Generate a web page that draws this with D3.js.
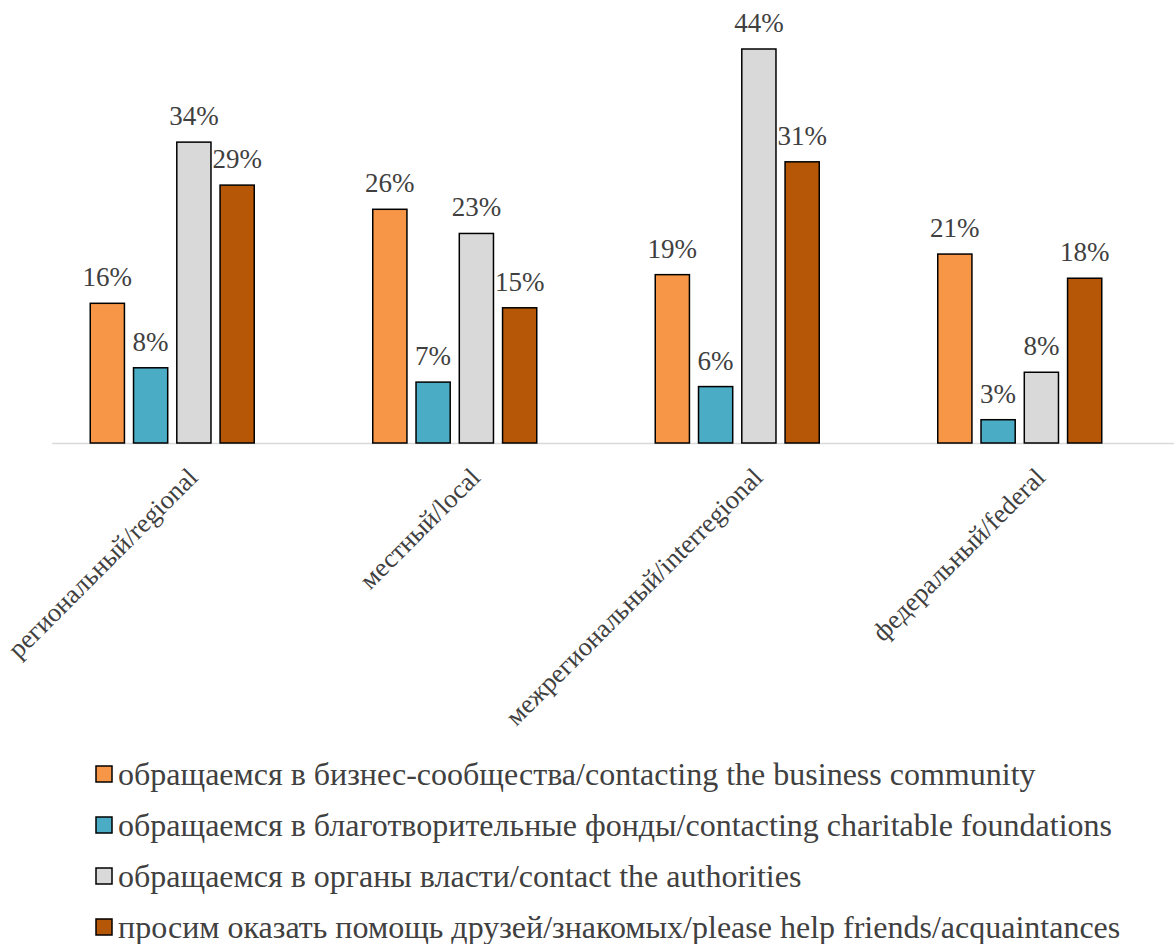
<!DOCTYPE html>
<html>
<head>
<meta charset="utf-8">
<script src="https://cdn.jsdelivr.net/npm/d3@7"></script>
<style>
  body { margin: 0; background: #fff; }
  text { font-family: "Liberation Serif", "Times New Roman", serif; fill: #404040; }
</style>
</head>
<body>
<div id="chart"></div>
<script>
const widthChart = 1174;
const heightChart = 944;

const categories = ["региональный/regional", "местный/local", "межрегиональный/interregional", "федеральный/federal"];
const seriesNames = [
    "обращаемся в бизнес-сообщества/contacting the business community",
    "обращаемся в благотворительные фонды/contacting charitable foundations",
    "обращаемся в органы власти/contact the authorities",
    "просим оказать помощь друзей/знакомых/please help friends/acquaintances"
];
// values in % (labels show them rounded)
const business = [15.6, 26.1, 18.8, 21.1];
const charity = [8.4, 6.8, 6.3, 2.6];
const authorities = [33.6, 23.4, 44.0, 7.9];
const friends = [28.8, 15.1, 31.4, 18.4];
const colors = ["#F79646", "#4BACC6", "#D9D9D9", "#B65708"];

const seriesValues = [business, charity, authorities, friends];
const baseline = 443;

const svg = d3.select("#chart")
    .append("svg")
    .attr("width", widthChart)
    .attr("height", heightChart);

const x0 = d3.scaleBand()
    .domain(categories)
    .range([31, 1161]);

const x1 = d3.scaleBand()
    .domain(d3.range(seriesNames.length))
    .range([0, 164])
    .paddingInner(0.21);

const y = d3.scaleLinear()
    .domain([0, 44])
    .range([baseline, 49]);

const offset = (x0.bandwidth() - 164) / 2;

// axis line
svg.append("line")
    .attr("x1", 52)
    .attr("x2", widthChart)
    .attr("y1", baseline + 0.5)
    .attr("y2", baseline + 0.5)
    .attr("stroke", "#d9d9d9")
    .attr("stroke-width", 1.5);

const groups = svg.selectAll("g.group")
    .data(categories)
    .enter()
    .append("g")
    .attr("class", "group")
    .attr("transform", d => "translate(" + (x0(d) + offset) + ",0)");

groups.each(function (cat, ci) {
    const g = d3.select(this);
    seriesValues.forEach((vals, si) => {
        const v = vals[ci];
        g.append("rect")
            .attr("x", x1(si))
            .attr("y", y(v))
            .attr("width", x1.bandwidth())
            .attr("height", baseline - y(v))
            .attr("fill", colors[si])
            .attr("stroke", "black")
            .style("stroke-width", "1.5px");
        g.append("text")
            .attr("x", x1(si) + x1.bandwidth() / 2)
            .attr("y", y(v) - 17)
            .attr("text-anchor", "middle")
            .style("font-size", "27px")
            .text(Math.round(v) + "%");
    });
});

// category labels
svg.selectAll("text.cat")
    .data(categories)
    .enter()
    .append("text")
    .attr("class", "cat")
    .attr("text-anchor", "end")
    .style("font-size", "26.5px")
    .attr("transform", d => "translate(" + (x0(d) + x0.bandwidth() / 2 + 27) + "," + (baseline + 36) + ") rotate(-45)")
    .text(d => d);

// legend
const legend = svg.selectAll("g.legend")
    .data(seriesNames)
    .enter()
    .append("g")
    .attr("class", "legend")
    .attr("transform", (d, i) => "translate(96," + (785 + i * 51) + ")");

legend.append("rect")
    .attr("x", 0)
    .attr("y", -19)
    .attr("width", 16)
    .attr("height", 16)
    .attr("fill", (d, i) => colors[i])
    .attr("stroke", "black")
    .style("stroke-width", "1.5px");

legend.append("text")
    .attr("x", 22)
    .attr("y", 0)
    .style("font-size", "32px")
    .text(d => d);
</script>
</body>
</html>
